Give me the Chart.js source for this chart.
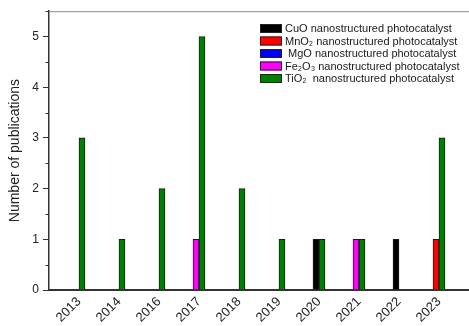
<!DOCTYPE html>
<html>
<head>
<meta charset="utf-8">
<script src="https://cdn.jsdelivr.net/npm/chart.js@4/dist/chart.umd.min.js"></script>
<style>
  html, body { margin: 0; padding: 0; background: #fff; }
  #wrap { width: 469px; height: 326px; }
</style>
</head>
<body>
<div id="wrap"><canvas id="c" width="469" height="326"></canvas></div>
<script>
// ---- data ----
const years = ['2013','2014','2016','2017','2018','2019','2020','2021','2022','2023'];
const cuoValues   = [null, null, null, null, null, null, 1, null, 1, null];
const mno2Values  = [null, null, null, null, null, null, null, null, null, 1];
const mgoValues   = [null, null, null, null, null, null, null, null, null, null];
const fe2o3Values = [null, null, null, 1, null, null, null, 1, null, null];
const tio2Values  = [3, 1, 2, 5, 2, 1, 1, 1, null, 3];
const seriesLabels = [
  'CuO nanostructured photocatalyst',
  'MnO\u2082 nanostructured photocatalyst',
  ' MgO nanostructured photocatalyst',
  'Fe\u2082O\u2083 nanostructured photocatalyst',
  'TiO\u2082  nanostructured photocatalyst'
];
const yTicks = [0, 1, 2, 3, 4, 5];

const FONT = "'Liberation Sans', Arial, sans-serif";
const toPoints = arr => arr.map((v, i) => ({ x: i, y: v }));

function ds(label, values, color, stack) {
  return {
    label, data: toPoints(values), backgroundColor: color,
    borderColor: '#1a1a1a', borderWidth: 1, barThickness: 6, stack
  };
}

const topBorder = {
  id: 'topBorder',
  afterDraw(chart) {
    const { ctx, chartArea: a, scales: { y } } = chart;
    ctx.save();
    ctx.strokeStyle = '#8a8a8a';
    ctx.lineWidth = 1;
    ctx.beginPath();
    ctx.moveTo(a.left, a.top + 0.5);
    ctx.lineTo(a.right, a.top + 0.5);
    ctx.stroke();
    ctx.strokeStyle = '#333';
    ctx.lineWidth = 1;
    for (let i = 0; i < yTicks.length; i++) {
      const py = Math.round(y.getPixelForValue(yTicks[i] + 0.5)) + 0.5;
      ctx.beginPath();
      ctx.moveTo(a.left - 3.5, py);
      ctx.lineTo(a.left, py);
      ctx.stroke();
    }
    const lx = 260, ly = 24, step = 12.5, sw = 22, sh = 9;
    ctx.font = '11px ' + FONT;
    ctx.textBaseline = 'middle';
    ctx.textAlign = 'left';
    chart.data.datasets.forEach((d, i) => {
      const yy = ly + i * step;
      ctx.fillStyle = d.backgroundColor;
      ctx.fillRect(lx, yy, sw, sh);
      ctx.strokeStyle = '#222';
      ctx.lineWidth = 1;
      ctx.strokeRect(lx + 0.5, yy + 0.5, sw - 1, sh - 1);
      ctx.fillStyle = '#1a1a1a';
      ctx.fillText(d.label, lx + sw + 3, yy + sh / 2 + 0.5);
    });
    ctx.restore();
  }
};

new Chart(document.getElementById('c'), {
  type: 'bar',
  data: {
    datasets: [
      ds(seriesLabels[0], cuoValues, '#000000', 'a'),
      ds(seriesLabels[1], mno2Values, '#ff0000', 'a'),
      ds(seriesLabels[2], mgoValues, '#0000ff', 'a'),
      ds(seriesLabels[3], fe2o3Values, '#ff00ff', 'a'),
      ds(seriesLabels[4], tio2Values, '#008000', 'b')
    ]
  },
  options: {
    responsive: false,
    devicePixelRatio: 1,
    animation: false,
    layout: { padding: { top: 11, left: 0, right: 0, bottom: 0 } },
    plugins: { legend: { display: false }, tooltip: { enabled: false } },
    scales: {
      x: {
        type: 'linear',
        min: -0.75,
        max: 9.75,
        offset: false,
        grid: { display: false, drawTicks: false, offset: false },
        border: { display: true, color: '#333', width: 2 },
        afterBuildTicks: s => { s.ticks = years.map((_, i) => ({ value: i })); },
        afterFit: s => { s.height = 36; s.paddingLeft = 0; s.paddingRight = 0; },
        ticks: {
          autoSkip: false, maxRotation: 45, minRotation: 45, padding: 4,
          color: '#222', font: { family: FONT, size: 13 },
          callback: v => years[v]
        }
      },
      y: {
        min: 0,
        max: 5.5,
        grid: { drawOnChartArea: false, drawTicks: true, tickLength: 6, color: '#333', tickWidth: 1 },
        border: { display: true, color: '#333', width: 1.5 },
        afterBuildTicks: s => { s.ticks = yTicks.map(v => ({ value: v })); },
        afterFit: s => { s.width = 49; },
        ticks: { padding: 4, color: '#222', font: { family: FONT, size: 12 } },
        title: {
          display: true, text: 'Number of publications', color: '#222',
          font: { family: FONT, size: 14 }, padding: { top: 7, bottom: 0 }
        }
      }
    }
  },
  plugins: [topBorder]
});
</script>
</body>
</html>
